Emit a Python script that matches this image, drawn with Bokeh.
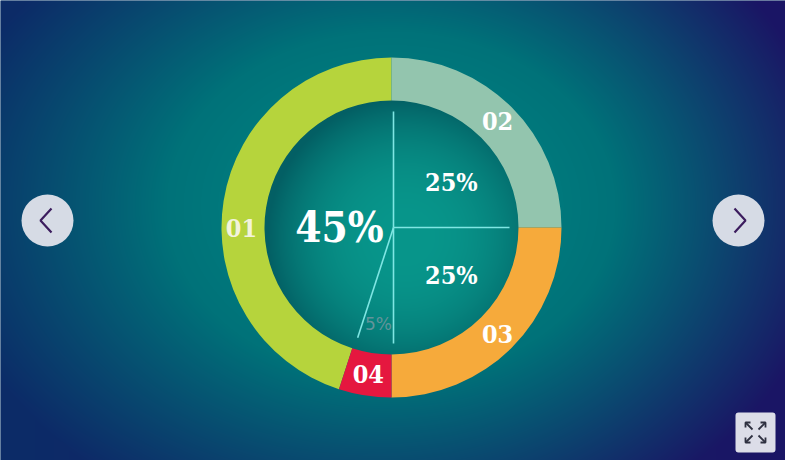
import numpy as np
from bokeh.plotting import figure
from bokeh.models import Range1d, ColumnDataSource
from bokeh.core.properties import value
from bokeh.embed import file_html
from bokeh.resources import INLINE

# ---------------- data ----------------
labels = ["01", "02", "03", "04"]
values = [45, 25, 25, 5]
pct_labels = ["45%", "25%", "25%", "5%"]
colors = ["#b6d43c", "#93c5ae", "#f6aa3b", "#e5173f"]
clockwise_order = [1, 2, 3, 0]  # drawing order clockwise from 12 o'clock

# ---------------- layout / style ----------------
W, H = 785, 460
CX, CY_S = 391, 227           # centre in screen px
R_IN, R_OUT = 127, 170
FONT = "DejaVu Serif Condensed"

def Y(sy):
    return H - sy

CY = Y(CY_S)

# angles (clockwise from top)
total = float(sum(values))
starts = {}
ends = {}
acc = 0.0
for i in clockwise_order:
    a0 = np.pi / 2 - 2 * np.pi * acc / total
    acc += values[i]
    a1 = np.pi / 2 - 2 * np.pi * acc / total
    starts[i] = a0
    ends[i] = a1
start_angle = [starts[i] for i in range(len(labels))]
end_angle = [ends[i] for i in range(len(labels))]
mid_angle = [(s + e) / 2 for s, e in zip(start_angle, end_angle)]

# ---------------- background image ----------------
ys, xs = np.mgrid[0:H, 0:W].astype(float)
d = np.sqrt(((xs - 390) / 450.0) ** 2 + ((ys - 205) / 350.0) ** 2)
t = xs / (W - 1)
edge = np.stack([12 + (27 - 12) * t, 44 + (21 - 44) * t, 104 + (101 - 104) * t], axis=-1)
c0 = np.array([0, 140, 134], float)
c1 = np.array([0, 114, 121], float)
dd = np.clip(d, 0, 1.0)[..., None]
col = np.where(dd < 0.5,
               c0 + (c1 - c0) * (dd / 0.5),
               c1 + (edge - c1) * ((dd - 0.5) / 0.5))
# inner disc shading
rr = np.sqrt((xs - CX) ** 2 + (ys - CY_S) ** 2)
inside = rr < R_IN + 2
s = np.clip(np.sqrt((xs - 405) ** 2 + (ys - 236) ** 2) / (R_IN + 12), 0, 1)[..., None]
ic = np.array([8, 150, 139], float)
ie = np.array([3, 95, 100], float)
icol = ic + (ie - ic) * s ** 2.6
col = np.where(inside[..., None], icol, col)

img = np.zeros((H, W), dtype=np.uint32)
view = img.view(dtype=np.uint8).reshape((H, W, 4))
col = np.clip(col, 0, 255).astype(np.uint8)
view[..., 0] = col[..., 0]
view[..., 1] = col[..., 1]
view[..., 2] = col[..., 2]
view[..., 3] = 255
img = np.flipud(img)

# ---------------- figure ----------------
p = figure(width=W, height=H, x_range=Range1d(0, W), y_range=Range1d(0, H),
           output_backend="svg", toolbar_location=None, min_border=0)
p.axis.visible = False
p.grid.visible = False
p.outline_line_color = None
p.background_fill_color = "#0a3a6b"
p.border_fill_color = "#0a3a6b"

p.image_rgba(image=[img], x=0, y=0, dw=W, dh=H)

src = ColumnDataSource(dict(label=labels, value=values, color=colors,
                            start=start_angle, end=end_angle))
p.annular_wedge(x=CX, y=CY, inner_radius=R_IN, outer_radius=R_OUT,
                start_angle="start", end_angle="end", direction="clock",
                fill_color="color", line_color=None, source=src)

# radial divider lines inside the disc
line_len = 116
bx = [CX + 2 + line_len * np.cos(a) for a in start_angle]
by = [CY + line_len * np.sin(a) for a in start_angle]
p.segment(x0=[CX + 2] * len(bx), y0=[CY] * len(by), x1=bx, y1=by,
          line_color="#7fe6e3", line_width=1.6)

# ring labels
ring_label_angle = [np.pi, mid_angle[1], mid_angle[2], mid_angle[3]]
ring_r = [150, 150, 150, 148]
lx = [CX + r * np.cos(a) for r, a in zip(ring_r, ring_label_angle)]
ly = [CY + r * np.sin(a) for r, a in zip(ring_r, ring_label_angle)]
p.text(x=lx, y=ly, text=labels, text_align="center", text_baseline="middle",
       text_font=value(FONT), text_font_style="bold", text_font_size="25px",
       text_color=["#f2f3dc", "#ffffff", "#ffffff", "#ffffff"])

# inner percentage labels
in_angle = [np.pi, np.radians(37), np.radians(-39), np.radians(-100)]
in_r = [52, 75, 77, 98]
px = [CX + r * np.cos(a) for r, a in zip(in_r, in_angle)]
py = [CY + r * np.sin(a) for r, a in zip(in_r, in_angle)]
sizes = ["42px", "25px", "25px", "17px"]
pcols = ["#ffffff", "#ffffff", "#ffffff", "#62949a"]
styles = ["bold", "bold", "bold", "normal"]
for i in range(len(labels)):
    p.text(x=[px[i] + (4 if i == 3 else 0)], y=[py[i]], text=[pct_labels[i]], text_align="center",
           text_baseline="middle", text_font=value(FONT if i < 3 else "DejaVu Sans"),
           text_font_style=styles[i], text_font_size=sizes[i], text_color=pcols[i])

# navigation buttons
p.circle(x=[47, 738], y=[Y(220), Y(220)], radius=26, fill_color="#d6dbe5", line_color=None)
p.line(x=[51, 40, 51], y=[Y(208), Y(220), Y(232)], line_color="#3c1d5e", line_width=2.2)
p.line(x=[734, 745, 734], y=[Y(208), Y(220), Y(232)], line_color="#3c1d5e", line_width=2.2)

# fullscreen button
p.rect(x=[755], y=[Y(432)], width=40, height=40, fill_color="#dcdde8", line_color=None,
       border_radius=3)
icx, icy = 755, 432
for sx, sy in [(-1, -1), (1, -1), (-1, 1), (1, 1)]:
    x0, y0 = icx + sx * 3, icy + sy * 3
    x1, y1 = icx + sx * 10, icy + sy * 10
    p.line(x=[x0, x1], y=[Y(y0), Y(y1)], line_color="#2e3040", line_width=1.8)
    p.line(x=[x1 - sx * 5, x1, x1], y=[Y(y1), Y(y1), Y(y1 - sy * 5)],
           line_color="#2e3040", line_width=1.8)

open("out.html", "w").write(file_html(p, INLINE))
